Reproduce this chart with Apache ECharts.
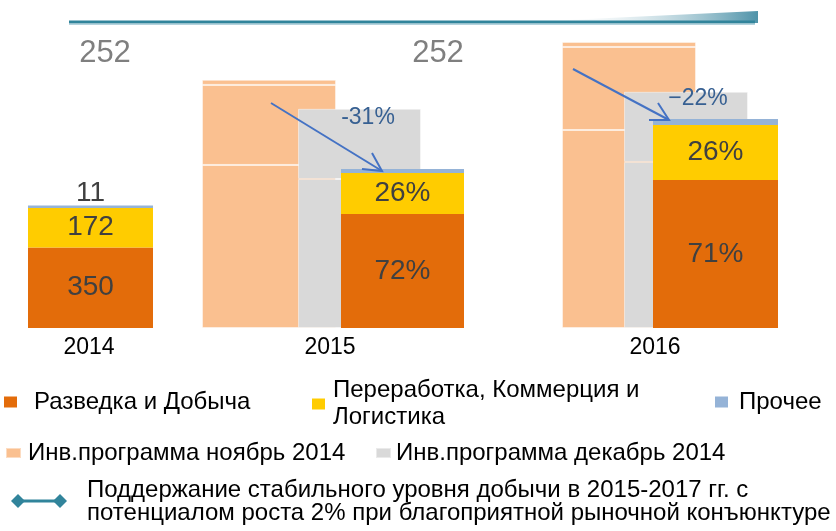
<!DOCTYPE html>
<html>
<head>
<meta charset="utf-8">
<script src="https://cdn.jsdelivr.net/npm/echarts@6/dist/echarts.min.js"></script>
<style>
  html, body { margin: 0; padding: 0; background: #fff; }
  #chart { width: 836px; height: 531px; }
</style>
</head>
<body>
<div id="chart"></div>
<script>
var years = ['2014', '2015', '2016'];
// структура инвестиций по сегментам
var explore = [350, 496, 644];
var refining = [172, 178, 239];
var other = [11, 17, 26];
// Инв.программа ноябрь 2014 (сегменты)
var novExplore = [null, 709, 861];
var novRefining = [null, 348, 361];
var novOther = [null, 22, 22];
// Инв.программа декабрь 2014 (сегменты)
var decLower = [null, 648, 722];
var decUpper = [null, 305, 305];
var changes = [null, '-31%', '−22%'];
var topValues = ['252', '252'];

var FONT = 'Liberation Sans, Arial, sans-serif';
var TOP = 6, H = 322, YMAX = 1400;
var C = {
  explore: '#E36C0A', refining: '#FFCC00', other: '#95B3D7',
  nov: '#FAC090', dec: '#D9D9D9', teal: '#31849B', arrow: '#4472C4'
};
var NAMES = {
  explore: 'Разведка и Добыча',
  refining: 'Переработка, Коммерция и Логистика',
  other: 'Прочее',
  nov: 'Инв.программа ноябрь 2014',
  dec: 'Инв.программа декабрь 2014'
};

// каждый столбец в своей сетке: центр и ширина
var slots = [
  { i: 1, kind: 'nov', cx: 269, w: 134 },
  { i: 2, kind: 'nov', cx: 629, w: 134 },
  { i: 1, kind: 'dec', cx: 359.5, w: 123 },
  { i: 2, kind: 'dec', cx: 686, w: 124 },
  { i: 0, kind: 'stack', cx: 90.5, w: 125 },
  { i: 1, kind: 'stack', cx: 402.5, w: 123 },
  { i: 2, kind: 'stack', cx: 715.5, w: 125 }
];
var labelSlots = [{ i: 0, cx: 89 }, { i: 1, cx: 330 }, { i: 2, cx: 655 }];

var grids = [], xAxes = [], yAxes = [], series = [];

function addGrid(cx, w, yearIdx, showLabel) {
  var g = grids.length;
  grids.push({ left: cx - w / 2, width: w, top: TOP, height: H });
  xAxes.push({
    gridIndex: g, type: 'category', data: [years[yearIdx]],
    axisLine: { show: false }, axisTick: { show: false }, splitLine: { show: false },
    axisLabel: { show: showLabel, color: '#000', fontSize: 23, fontFamily: FONT, margin: 8 }
  });
  yAxes.push({ gridIndex: g, type: 'value', min: 0, max: YMAX, show: false, splitLine: { show: false } });
  return g;
}

function bar(g, name, color, value, stack, z, extra) {
  var s = {
    type: 'bar', name: name, xAxisIndex: g, yAxisIndex: g, stack: stack, z: z,
    barWidth: '100%', data: [value], silent: true,
    itemStyle: { color: color }
  };
  for (var k in extra) s[k] = extra[k];
  series.push(s);
}

slots.forEach(function (sl) {
  var g = addGrid(sl.cx, sl.w, sl.i, false);
  var i = sl.i, st = 'st' + g;
  if (sl.kind === 'nov') {
    [novExplore, novRefining, novOther].forEach(function (arr) {
      bar(g, NAMES.nov, C.nov, arr[i], st, 2,
        { itemStyle: { color: C.nov, borderColor: 'rgba(255,255,255,0.45)', borderWidth: 1 } });
    });
  } else if (sl.kind === 'dec') {
    [decLower, decUpper].forEach(function (arr) {
      bar(g, NAMES.dec, C.dec, arr[i], st, 3,
        { itemStyle: { color: C.dec, borderColor: 'rgba(255,255,255,0.45)', borderWidth: 1 } });
    });
  } else {
    var total = explore[i] + refining[i] + other[i];
    var lbl = function () {
      return {
        show: true, position: 'inside', color: '#404040', fontSize: 28, fontFamily: FONT,
        formatter: function (p) {
          return i === 0 ? String(p.value) : Math.round(p.value / total * 100) + '%';
        }
      };
    };
    bar(g, NAMES.explore, C.explore, explore[i], st, 4, { label: lbl() });
    bar(g, NAMES.refining, C.refining, refining[i], st, 4, { label: lbl() });
    bar(g, NAMES.other, C.other, other[i], st, 4,
      { label: i === 0 ? { show: true, position: 'top', distance: 0, offset: [0, 2], color: '#404040', fontSize: 28, fontFamily: FONT } : { show: false } });
  }
});

labelSlots.forEach(function (ls) { addGrid(ls.cx, 80, ls.i, true); });

function legendItem(name, left, top, iw, ih, pad, extra) {
  var l = {
    data: [name], left: left, top: top, padding: 0, itemWidth: iw, itemHeight: ih,
    icon: 'rect', selectedMode: false,
    textStyle: { color: '#000', fontSize: 24, fontFamily: FONT, padding: [0, 0, 0, pad] }
  };
  for (var k in extra) l[k] = extra[k];
  return l;
}

var legends = [
  legendItem(NAMES.explore, 4, 390, 13, 11, 12),
  legendItem(NAMES.refining, 312, 377, 13, 11, 3, {
    formatter: function () { return 'Переработка, Коммерция и\nЛогистика'; },
    textStyle: { color: '#000', fontSize: 24, fontFamily: FONT, lineHeight: 27, padding: [0, 0, 0, 3] }
  }),
  legendItem(NAMES.other, 715, 390, 13, 11, 6),
  legendItem(NAMES.nov, 5, 441, 15, 10, 2),
  legendItem(NAMES.dec, 375, 441, 15, 10, 0)
];

var graphics = [
  // верхняя полоса
  { type: 'polygon', shape: { points: [[545, 21], [758, 11], [758, 23], [545, 23]] },
    style: { fill: new echarts.graphic.LinearGradient(0, 0, 1, 0, [
      { offset: 0, color: 'rgba(255,255,255,0)' }, { offset: 1, color: '#4f93a9' }]) } },
  { type: 'line', shape: { x1: 69, y1: 22, x2: 755, y2: 22 }, style: { stroke: C.teal, lineWidth: 3 } },
  { type: 'line', shape: { x1: 69, y1: 24.5, x2: 755, y2: 24.5 }, style: { stroke: '#b5d3dd', lineWidth: 1 } },
  // 252
  { type: 'text', x: 105, y: 53, style: { text: topValues[0], fill: '#7F7F7F', font: '31px ' + FONT, textAlign: 'center', textVerticalAlign: 'middle' } },
  { type: 'text', x: 438, y: 53, style: { text: topValues[1], fill: '#7F7F7F', font: '31px ' + FONT, textAlign: 'center', textVerticalAlign: 'middle' } },
  // стрелки
  { type: 'line', shape: { x1: 271, y1: 103, x2: 382, y2: 171 }, style: { stroke: C.arrow, lineWidth: 2 }, z: 10 },
  { type: 'polyline', shape: { points: [[372, 153], [382, 171], [362, 169]] }, style: { stroke: C.arrow, lineWidth: 2, fill: null }, z: 10 },
  { type: 'line', shape: { x1: 573, y1: 69, x2: 669, y2: 120 }, style: { stroke: C.arrow, lineWidth: 2 }, z: 10 },
  { type: 'polyline', shape: { points: [[658, 103], [669, 120], [649, 120]] }, style: { stroke: C.arrow, lineWidth: 2, fill: null }, z: 10 },
  { type: 'text', x: 368, y: 118, z: 10, style: { text: changes[1], fill: '#376092', font: '23px ' + FONT, textAlign: 'center', textVerticalAlign: 'middle' } },
  { type: 'text', x: 698, y: 99, z: 10, style: { text: changes[2], fill: '#376092', font: '23px ' + FONT, textAlign: 'center', textVerticalAlign: 'middle' } },
  // легенда: линия с ромбами
  { type: 'line', shape: { x1: 18, y1: 501, x2: 60, y2: 501 }, style: { stroke: C.teal, lineWidth: 3 } },
  { type: 'polygon', shape: { points: [[18, 494], [25, 501], [18, 508], [11, 501]] }, style: { fill: C.teal } },
  { type: 'polygon', shape: { points: [[60, 494], [67, 501], [60, 508], [53, 501]] }, style: { fill: C.teal } },
  { type: 'text', x: 87, y: 479, style: {
    text: 'Поддержание стабильного уровня добычи в 2015-2017 гг. с\nпотенциалом роста 2% при благоприятной рыночной конъюнктуре',
    fill: '#000', font: '24px ' + FONT, lineHeight: 23, textVerticalAlign: 'top' } }
];

var chart = echarts.init(document.getElementById('chart'));
chart.setOption({
  backgroundColor: '#fff',
  animation: false,
  grid: grids,
  xAxis: xAxes,
  yAxis: yAxes,
  legend: legends,
  series: series,
  graphic: graphics
});
</script>
</body>
</html>
